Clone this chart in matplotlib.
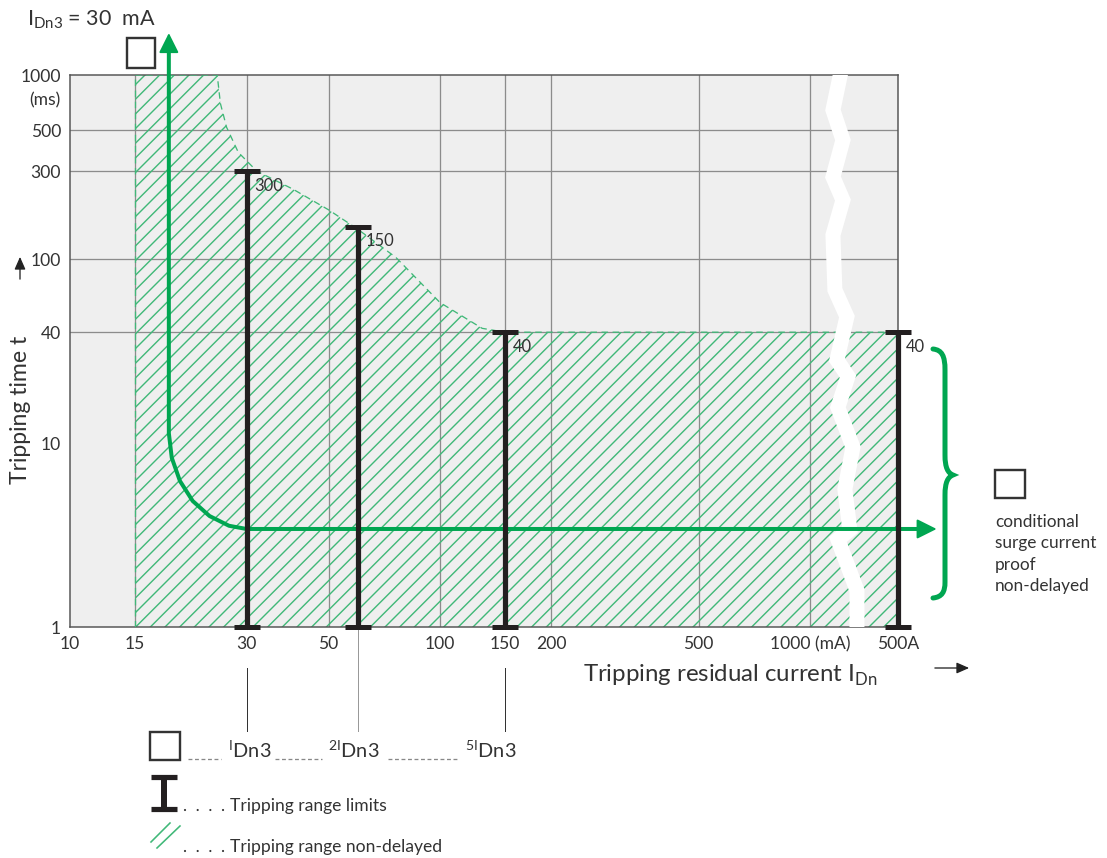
import numpy as np
import matplotlib
matplotlib.use('Agg')
import matplotlib.pyplot as plt
from matplotlib.patches import Rectangle, PathPatch, FancyArrowPatch
from matplotlib.lines import Line2D
from matplotlib.path import Path

W, H = 1107, 858
DPI = 176  # hatch spacing follows the dpi


def pt(px):
    # pixel size -> points at the chosen dpi
    return px * 72 / DPI


def fx(px):
    return px / W


def fy(py):
    return 1 - py / H


plt.rcParams['font.family'] = ['Lato', 'DejaVu Sans']
plt.rcParams['mathtext.fontset'] = 'custom'
plt.rcParams['mathtext.rm'] = 'Lato'
plt.rcParams['hatch.linewidth'] = pt(1.4)

# axis ticks / labels
x_ticks = [10, 15, 30, 50, 100, 150, 200, 500, 1000, 1730]
x_ticklabels = ['10', '15', '30', '50', '100', '150', '200', '500', '1000 (mA)', '500A']
y_ticks = [1, 10, 40, 100, 300, 500, 1000]
y_ticklabels = ['1', '10', '40', '100', '300', '500', '1000']
grid_x = [15, 30, 50, 100, 150, 200, 500, 1000]
grid_y = [40, 100, 300, 500]

# non-delayed tripping range (upper boundary)
range_x = [15, 25, 25.5, 26.5, 28.5, 32, 40, 50, 60, 76, 100, 130, 150, 1730]
range_t = [1000, 1000, 700, 520, 380, 300, 240, 185, 145, 102, 58, 42, 40, 40]

# tripping range limits
limit_x = [30, 60, 150, 1730]
limit_t = [300, 150, 40, 40]
limit_labels = ['300', '150', '40', '40']

# characteristic of the 30 mA device
curve_x = [18.5, 18.5, 18.84, 19.82, 21.46, 23.83, 26.9, 30, 1980]
curve_t = [1370, 11.3, 8.31, 6.22, 4.84, 4.01, 3.55, 3.41, 3.41]

# axis break (white zigzag)
break_x = [1220, 1154, 1228, 1154, 1228, 1154, 1168, 1259, 1183, 1267, 1190, 1307, 1243, 1282, 1190, 1340, 1340]
break_t = [1100, 645, 443, 279, 209, 135, 68, 48.6, 28.3, 23, 15.6, 9.5, 5.6, 3.38, 2.99, 1.58, 0.9]

green = '#00a651'
hatch_green = '#40b878'
bar_color = '#231f20'
text_color = '#333333'

fig = plt.figure(figsize=(W / DPI, H / DPI), dpi=DPI)
ax = fig.add_axes([fx(70), fy(627), 828 / W, 552 / H])
ax.set_xscale('log')
ax.set_yscale('log')
ax.set_xlim(10, 1730)
ax.set_ylim(1, 1000)
ax.set_facecolor('#efefef')
ax.set_xticks(x_ticks, x_ticklabels)
ax.set_yticks(y_ticks, y_ticklabels)
ax.minorticks_off()
ax.tick_params(length=0, labelsize=pt(17.5), colors=text_color, pad=pt(9))
for s in ax.spines.values():
    s.set_color('#555555')
    s.set_linewidth(pt(1.5))

# grid
for gx in grid_x:
    ax.axvline(gx, color='#8c8c8c', lw=pt(1.3), zorder=1)
for gy in grid_y:
    ax.axhline(gy, color='#8c8c8c', lw=pt(1.3), zorder=1)

# hatched tripping range
ax.fill_between(range_x, 1, range_t, facecolor='none', edgecolor=hatch_green,
                hatch='////', lw=0, zorder=2)
ax.plot(range_x, range_t, color=hatch_green, lw=pt(1.3), dashes=(5, 3.5), zorder=3)
ax.plot([range_x[0], range_x[0]], [1, range_t[0]], color=hatch_green, lw=pt(1.3),
        dashes=(5, 3.5), zorder=3)

# axis break
ax.plot(break_x, break_t, color='white', lw=pt(15), solid_joinstyle='miter', zorder=4)

# green characteristic with arrows
ax.plot(curve_x, curve_t, color=green, lw=pt(4), clip_on=False, zorder=5,
        solid_capstyle='butt')
arrow_style = '-|>,head_length=0.8,head_width=0.4'
ax.annotate('', xy=(curve_x[0], 1690), xytext=(curve_x[0], curve_t[0]),
            arrowprops=dict(arrowstyle=arrow_style, color=green, lw=pt(2),
                            shrinkA=0, shrinkB=0, mutation_scale=pt(21)),
            annotation_clip=False)
ax.annotate('', xy=(2200, curve_t[-1]), xytext=(curve_x[-1], curve_t[-1]),
            arrowprops=dict(arrowstyle=arrow_style, color=green, lw=pt(2),
                            shrinkA=0, shrinkB=0, mutation_scale=pt(21)),
            annotation_clip=False)

# tripping range limits
for x, t, lab in zip(limit_x, limit_t, limit_labels):
    ax.plot([x, x], [1, t], color=bar_color, lw=pt(5.2), marker='_', ms=pt(26), mew=pt(5),
            clip_on=False, zorder=6, solid_capstyle='butt')
    ax.annotate(lab, (x, t), xytext=(pt(8), pt(-6.5)), textcoords='offset points',
                ha='left', va='top', fontsize=pt(16.5), color=text_color,
                annotation_clip=False)

# connector lines to the legend multiples
xt = ax.get_xaxis_transform()
ax.plot([limit_x[0]] * 2, [-0.074, -0.188], transform=xt, clip_on=False, color='#333333', lw=pt(1))
ax.plot([limit_x[1]] * 2, [0, -0.188], transform=xt, clip_on=False, color='#999999', lw=pt(1))
ax.plot([limit_x[2]] * 2, [-0.074, -0.188], transform=xt, clip_on=False, color='#333333', lw=pt(1))

# texts around the axes
fig.text(fx(61), fy(100), '(ms)', ha='right', va='center', fontsize=pt(17.5), color=text_color)
fig.text(fx(27), fy(25), r'I$_{\mathregular{Dn3}}$ = 30  mA', ha='left', va='baseline',
         fontsize=pt(21.5), color=text_color)
fig.text(fx(21), fy(410), 'Tripping time t', rotation=90, ha='center', va='center',
         fontsize=pt(23), color=text_color)
fig.text(fx(583), fy(682), r'Tripping residual current I$_{\mathregular{Dn}}$', ha='left',
         va='baseline', fontsize=pt(24), color=text_color)
fig.text(fx(995), fy(514), 'conditional\nsurge current\nproof\nnon-delayed', ha='left',
         va='top', fontsize=pt(17.3), color=text_color, linespacing=1.42)

small_arrow = '-|>,head_length=0.5,head_width=0.22'
fig.add_artist(FancyArrowPatch((fx(20), fy(284)), (fx(20), fy(252)), transform=fig.transFigure,
                               arrowstyle=small_arrow, mutation_scale=pt(21), color='#222222',
                               lw=pt(1.3)))
fig.add_artist(FancyArrowPatch((fx(930), fy(668)), (fx(974), fy(668)), transform=fig.transFigure,
                               arrowstyle=small_arrow, mutation_scale=pt(21), color='#222222',
                               lw=pt(1.3)))

# empty boxes
for (x0, y0, x1, y1) in [(127, 38, 155, 68), (995, 470, 1025, 498), (150, 732, 180, 760)]:
    fig.add_artist(Rectangle((fx(x0), fy(y1)), (x1 - x0) / W, (y1 - y0) / H, fill=False,
                             ec='#333333', lw=pt(2.4), transform=fig.transFigure))

# green brace
brace_px = [(933, 349), (942, 350), (945, 356), (945, 370), (945, 455),
            (945, 468), (948, 473), (953, 475), (948, 477), (945, 482), (945, 495),
            (945, 582), (945, 592), (942, 597), (933, 598)]
brace_codes = [Path.MOVETO, Path.CURVE4, Path.CURVE4, Path.CURVE4, Path.LINETO,
               Path.CURVE4, Path.CURVE4, Path.CURVE4, Path.CURVE4, Path.CURVE4, Path.CURVE4,
               Path.LINETO, Path.CURVE4, Path.CURVE4, Path.CURVE4]
brace = Path([(fx(a), fy(b)) for a, b in brace_px], brace_codes)
fig.add_artist(PathPatch(brace, transform=fig.transFigure, fill=False, ec=green, lw=pt(5),
                         capstyle='round'))

# legend
legend_size = pt(20)
fig.text(fx(228), fy(758), r'$^{\mathregular{I}}$Dn3', fontsize=legend_size, color=text_color, va='baseline')
fig.text(fx(328), fy(758), r'$^{\mathregular{2I}}$Dn3', fontsize=legend_size, color=text_color, va='baseline')
fig.text(fx(465), fy(758), r'$^{\mathregular{5I}}$Dn3', fontsize=legend_size, color=text_color, va='baseline')
for a, b in [(188, 221), (275, 322), (388, 458)]:
    fig.add_artist(Line2D([fx(a), fx(b)], [fy(759), fy(759)], transform=fig.transFigure,
                          color='#888888', lw=pt(1.3), dashes=(3, 2)))

fig.add_artist(Line2D([fx(164), fx(164)], [fy(777), fy(809)], transform=fig.transFigure,
                      color=bar_color, lw=pt(6), marker='_', ms=pt(26), mew=pt(5.2),
                      solid_capstyle='butt'))
# dotted leaders (4 dots each)
for yb in (810, 851):
    fig.add_artist(Line2D([fx(185), fx(227)], [fy(yb), fy(yb)], transform=fig.transFigure,
                          color=text_color, lw=pt(2.2), dashes=(0.01, 5.75),
                          dash_capstyle='round'))
fig.text(fx(230), fy(811), 'Tripping range limits', fontsize=pt(17.5), color=text_color, va='baseline')

for (a, b, c, d) in [(151, 842, 170, 823), (157, 848, 180, 826)]:
    fig.add_artist(Line2D([fx(a), fx(c)], [fy(b), fy(d)], transform=fig.transFigure,
                          color=hatch_green, lw=pt(1.6)))
fig.text(fx(230), fy(852), 'Tripping range non-delayed', fontsize=pt(17.5), color=text_color, va='baseline')

fig.savefig('out.png', dpi=DPI)
